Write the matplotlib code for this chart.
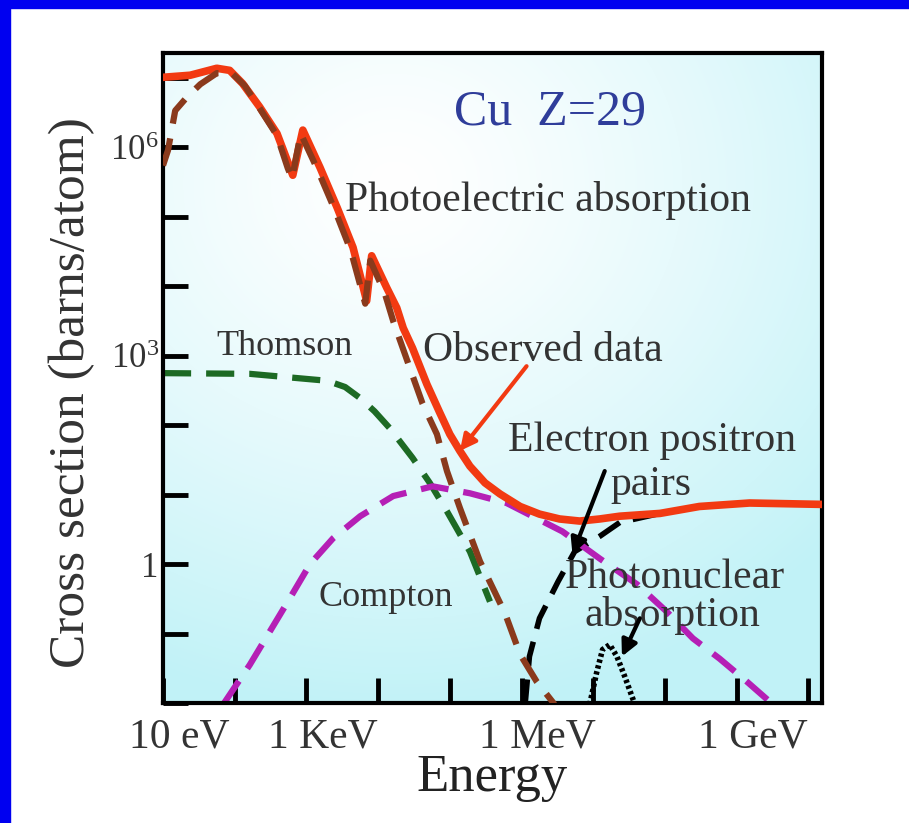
import matplotlib.pyplot as plt
import numpy as np
from matplotlib.patches import Rectangle
import matplotlib.transforms as mtransforms

plt.rcParams['font.family'] = ['Liberation Serif', 'DejaVu Serif']
plt.rcParams['mathtext.fontset'] = 'custom'
plt.rcParams['mathtext.rm'] = 'Liberation Serif'

# photon cross sections for copper, log10(E / eV) and log10(sigma / barn)
obs_logE = [1.0, 1.38, 1.75, 1.93, 2.11, 2.35, 2.59, 2.77, 2.81, 2.95, 3.19, 3.43, 3.65,
            3.84, 3.91, 4.12, 4.26, 4.35, 4.48, 4.68, 4.86, 5.0, 5.14, 5.28, 5.49, 5.70,
            5.98, 6.25, 6.53, 6.81, 7.09, 7.37, 7.93, 8.48, 9.18, 10.19]
obs_logS = [7.01, 7.04, 7.14, 7.11, 6.92, 6.58, 6.20, 5.71, 5.60, 6.25, 5.71, 5.13, 4.56,
            3.79, 4.44, 3.98, 3.69, 3.40, 3.11, 2.59, 2.18, 1.87, 1.63, 1.41, 1.17, 1.01,
            0.83, 0.72, 0.65, 0.62, 0.65, 0.69, 0.73, 0.83, 0.88, 0.86]

photo_logE = [1.0, 1.07, 1.17, 1.33, 1.52, 1.75, 1.96, 2.14, 2.35, 2.59, 2.74, 2.80, 2.92,
              3.16, 3.40, 3.62, 3.82, 3.89, 4.09, 4.21, 4.44, 4.62, 4.82, 4.96, 5.14, 5.42,
              5.77, 5.98, 6.21, 6.46]
photo_logS = [5.74, 5.96, 6.53, 6.72, 6.91, 7.07, 7.07, 6.89, 6.56, 6.17, 5.70, 5.55, 6.20,
              5.67, 5.09, 4.51, 3.75, 4.37, 3.91, 3.50, 2.83, 2.31, 1.87, 1.34, 0.81, 0.04,
              -0.71, -1.30, -1.69, -2.02]

thom_logE = [1.0, 2.21, 3.29, 3.54, 3.75, 3.95, 4.16, 4.48, 4.72, 4.96, 5.28, 5.56]
thom_logS = [2.75, 2.74, 2.64, 2.55, 2.39, 2.20, 1.96, 1.53, 1.17, 0.76, 0.18, -0.54]

comp_logE = [1.84, 2.21, 2.49, 2.77, 3.05, 3.37, 3.75, 4.21, 4.76, 5.28, 5.79, 6.57, 7.09,
             7.61, 8.02, 8.39, 8.76, 9.14, 9.46]
comp_logS = [-2.02, -1.45, -0.97, -0.49, 0.0, 0.37, 0.69, 0.98, 1.12, 1.02, 0.88, 0.47, 0.08,
             -0.29, -0.68, -1.07, -1.36, -1.69, -1.98]

pair_logE = [6.05, 6.11, 6.25, 6.51, 6.74, 7.09, 7.37, 7.93, 8.48, 9.18, 10.19]
pair_logS = [-2.02, -1.33, -0.78, -0.25, 0.18, 0.40, 0.60, 0.73, 0.83, 0.88, 0.86]

nuc_logE = [6.95, 7.05, 7.13, 7.23, 7.33, 7.44, 7.58]
nuc_logS = [-2.02, -1.55, -1.23, -1.16, -1.33, -1.62, -2.02]

xtick_logE = [1, 3, 6, 9]
xtick_text = ['10 eV', '1 KeV', '1 MeV', '1 GeV']
ytick_logS = [0, 3, 6]
ytick_text = ['1', r'$\mathregular{10^3}$', r'$\mathregular{10^6}$']

fig = plt.figure(figsize=(9.09, 8.23), dpi=100)
fig.patch.set_facecolor('white')
# blue frame strips along the top and left edges
fig.patches.append(Rectangle((0, 1 - 8 / 823), 1, 8 / 823, transform=fig.transFigure,
                             color='#0000f0', zorder=0))
fig.patches.append(Rectangle((0, 0), 10 / 909, 1, transform=fig.transFigure,
                             color='#0000f0', zorder=0))

ax = fig.add_axes([163 / 909, 120 / 823, 659 / 909, 650 / 823])
ax.set_xscale('log')
ax.set_yscale('log')
ax.set_xlim(10, 10 ** 10.19)
ax.set_ylim(1e-2, 10 ** 7.36)

# pale cyan background that fades to white near the top centre
gx, gy = np.meshgrid(np.linspace(0, 1, 300), np.linspace(0, 1, 300))
r = np.sqrt(((gx - 0.35) / 1.0) ** 2 + ((gy - 0.8) / 0.9) ** 2)
r = np.clip(r / 0.9, 0, 1) ** 1.3
c0 = np.array([1.0, 1.0, 1.0])
c1 = np.array([0.76, 0.95, 0.97])
img = c0 + (c1 - c0) * r[..., None]
ax.imshow(img, extent=[0, 1, 0, 1], transform=ax.transAxes, origin='lower',
          aspect='auto', zorder=0, interpolation='bilinear')

E = lambda v: 10.0 ** np.array(v, dtype=float)
dash = (0, (4.5, 2.4))
ax.plot(E(pair_logE), E(pair_logS), color='black', lw=4, ls=dash, zorder=2)
ax.plot(E(nuc_logE), E(nuc_logS), color='black', lw=4, ls=(0, (0.6, 0.5)), zorder=2)
ax.plot(E(thom_logE), E(thom_logS), color='#1d6a24', lw=4.5, ls=dash, zorder=2)
ax.plot(E(comp_logE), E(comp_logS), color='#b51fb5', lw=4.5, ls=dash, zorder=2)
ax.plot(E(obs_logE), E(obs_logS), color='#f23a12', lw=5.5, zorder=3)
ax.plot(E(photo_logE), E(photo_logS), color='#8a3a1c', lw=4.5, ls=dash, zorder=4)

for s in ax.spines.values():
    s.set_linewidth(3)
ax.set_xticks(E(range(1, 11)))
ax.set_xticks([], minor=True)
ax.set_yticks(E(range(-2, 8)))
ax.set_yticks([], minor=True)
ax.tick_params(direction='in', length=18, width=3.5, labelsize=30, labelcolor='#333333')
ax.set_xticklabels(['' if i not in xtick_logE else xtick_text[xtick_logE.index(i)]
                    for i in range(1, 11)])
ax.set_yticklabels(['' if i not in ytick_logS else ytick_text[ytick_logS.index(i)]
                    for i in range(-2, 8)], fontsize=25)
ax.tick_params(axis='x', pad=11)
ax.tick_params(axis='y', pad=3)
off = mtransforms.ScaledTranslation(16 / 100, 0, fig.dpi_scale_trans)
for lab in ax.get_xticklabels():
    lab.set_transform(lab.get_transform() + off)

ax.set_xlabel('Energy', fontsize=38, color='#222222', labelpad=-2)
ax.set_ylabel('Cross section (barns/atom)', fontsize=37, color='#333333')
ax.yaxis.set_label_coords(-0.103, 0.478)

txt = dict(color='#333333', ha='center', va='center', zorder=5)
ax.text(E(6.39), E(6.51), 'Cu  Z=29', fontsize=36, color='#2f3d9a', ha='center', va='center')
ax.text(E(6.37), E(5.24), 'Photoelectric absorption', fontsize=30, **txt)
ax.text(E(2.70), E(3.14), 'Thomson', fontsize=26, **txt)
ax.text(E(6.30), E(3.07), 'Observed data', fontsize=30, **txt)
ax.text(E(7.82), E(1.77), 'Electron positron', fontsize=30, **txt)
ax.text(E(7.80), E(1.14), 'pairs', fontsize=30, **txt)
ax.text(E(8.14), E(-0.19), 'Photonuclear', fontsize=30, **txt)
ax.text(E(8.11), E(-0.74), 'absorption', fontsize=30, **txt)
ax.text(E(4.11), E(-0.48), 'Compton', fontsize=26, **txt)

arrow = dict(arrowstyle='-|>', lw=3, mutation_scale=24, shrinkA=0, shrinkB=0)
ax.annotate('', xy=(E(5.14), E(1.63)), xytext=(E(6.07), E(2.85)),
            arrowprops=dict(color='#f23a12', **arrow), zorder=6)
ax.annotate('', xy=(E(6.71), E(0.14)), xytext=(E(7.16), E(1.34)),
            arrowprops=dict(color='black', **arrow), zorder=6)
ax.annotate('', xy=(E(7.40), E(-1.33)), xytext=(E(7.65), E(-0.78)),
            arrowprops=dict(color='black', **arrow), zorder=6)

fig.savefig('out.png', dpi=100)
